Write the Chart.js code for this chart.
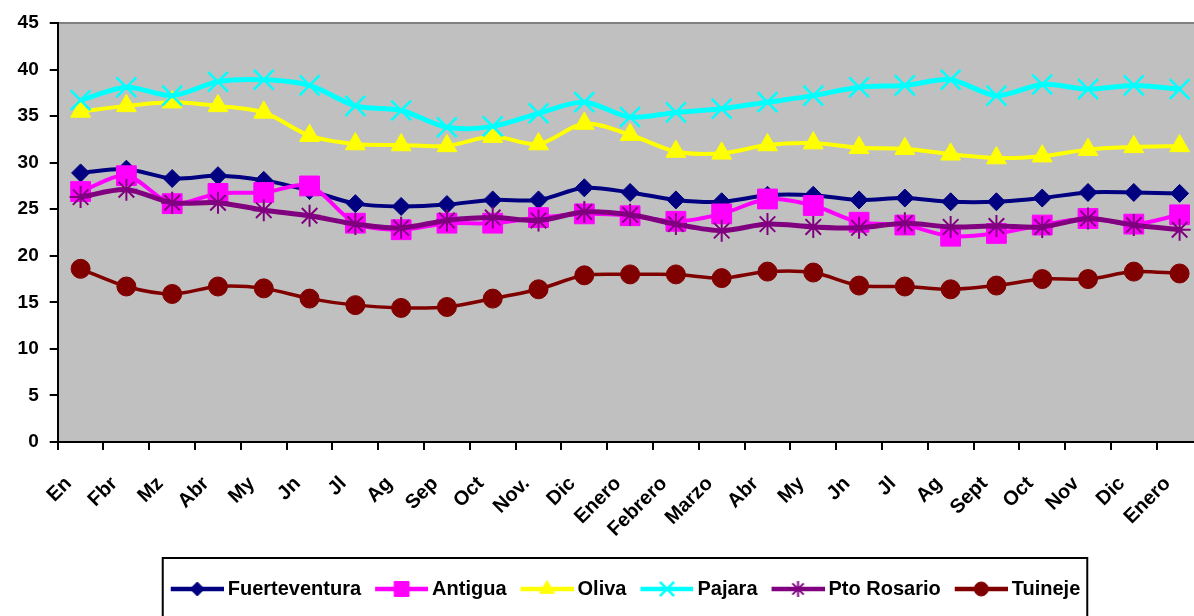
<!DOCTYPE html>
<html><head><meta charset="utf-8">
<script src="https://cdn.jsdelivr.net/npm/chart.js@4.4.0/dist/chart.umd.min.js"></script>
<style>html,body{margin:0;padding:0;background:#fff;overflow:hidden;width:1194px;height:616px}#wrap{width:1219px;height:616px}</style>
</head><body><div id="wrap"><canvas id="c" width="1219" height="616"></canvas></div>
<script>
const categories = ['En','Fbr','Mz','Abr','My','Jn','Jl','Ag','Sep','Oct','Nov.','Dic','Enero','Febrero','Marzo','Abr','My','Jn','Jl','Ag','Sept','Oct','Nov','Dic','Enero'];
const fuerteventura = [28.9, 29.3, 28.3, 28.6, 28.1, 27.0, 25.6, 25.3, 25.5, 26.0, 26.0, 27.3, 26.8, 26.0, 25.8, 26.5, 26.5, 26.0, 26.2, 25.8, 25.8, 26.2, 26.8, 26.8, 26.7];
const antigua = [26.9, 28.6, 25.6, 26.7, 26.8, 27.5, 23.5, 22.8, 23.5, 23.5, 24.1, 24.5, 24.3, 23.7, 24.5, 26.1, 25.4, 23.6, 23.3, 22.1, 22.4, 23.3, 24.0, 23.4, 24.4];
const oliva = [35.5, 36.1, 36.5, 36.1, 35.4, 32.9, 32.0, 31.9, 31.8, 32.8, 32.0, 34.2, 33.0, 31.2, 31.0, 31.9, 32.1, 31.6, 31.5, 30.9, 30.5, 30.7, 31.4, 31.7, 31.8];
const pajara = [36.7, 38.1, 37.2, 38.7, 38.9, 38.3, 36.1, 35.6, 33.8, 33.9, 35.3, 36.5, 34.9, 35.4, 35.8, 36.5, 37.2, 38.1, 38.3, 38.9, 37.2, 38.4, 37.9, 38.3, 37.9];
const ptoRosario = [26.3, 27.1, 25.7, 25.7, 24.9, 24.3, 23.4, 23.0, 23.8, 24.1, 23.8, 24.7, 24.4, 23.4, 22.7, 23.4, 23.1, 23.0, 23.5, 23.1, 23.2, 23.1, 24.0, 23.3, 22.8];
const tuineje = [18.6, 16.7, 15.9, 16.7, 16.5, 15.4, 14.7, 14.4, 14.5, 15.4, 16.4, 17.9, 18.0, 18.0, 17.6, 18.3, 18.2, 16.8, 16.7, 16.4, 16.8, 17.5, 17.5, 18.3, 18.1];
const seriesNames = ['Fuerteventura','Antigua','Oliva','Pajara','Pto Rosario','Tuineje'];
const yTicks = [0,5,10,15,20,25,30,35,40,45];

const FONT = "'Liberation Sans', Arial, sans-serif";
const styles = [
  {color:'#000080', lw:4, ps:'rectRot', r:9, pbw:1, legR:7},
  {color:'#FF00FF', lw:4, ps:'rect', r:14, pbw:1, legR:10.5},
  {color:'#FFFF00', lw:4, ps:'triangle', r:11.5, pbw:1, legR:8.5},
  {color:'#00FFFF', lw:5, ps:'crossRot', r:14, pbw:2.5, legR:10},
  {color:'#800080', lw:5, ps:'star', r:11, pbw:2, legR:8},
  {color:'#800000', lw:3.5, ps:'circle', r:9.5, pbw:1, legR:7}
];
const values = [fuerteventura, antigua, oliva, pajara, ptoRosario, tuineje];

function legendImg(st){
  const cv = document.createElement('canvas');
  cv.width = 64; cv.height = 24;
  const ctx = cv.getContext('2d');
  ctx.strokeStyle = st.color; ctx.lineWidth = 4.5;
  ctx.beginPath(); ctx.moveTo(11,12); ctx.lineTo(64,12); ctx.stroke();
  ctx.fillStyle = st.color; ctx.strokeStyle = st.color; ctx.lineWidth = st.pbw;
  Chart.helpers.drawPoint(ctx, {pointStyle: st.ps, radius: st.legR, rotation: 0, borderWidth: st.pbw}, 37.5, 12);
  return cv;
}

const datasets = seriesNames.map((name,i)=>({
  label: name,
  data: values[i],
  borderColor: styles[i].color,
  backgroundColor: styles[i].color,
  borderWidth: styles[i].lw,
  pointStyle: styles[i].ps,
  pointRadius: styles[i].r,
  pointBorderWidth: styles[i].pbw,
  pointBackgroundColor: styles[i].color,
  pointBorderColor: styles[i].color,
  tension: 0.3,
  order: seriesNames.length - i
}));

const bgPlugin = {
  id:'bg',
  beforeDraw(chart){
    const {ctx, chartArea:a} = chart;
    ctx.save(); ctx.fillStyle = '#C0C0C0';
    ctx.fillRect(a.left, a.top, a.right - a.left, a.bottom - a.top);
    ctx.strokeStyle = '#808080'; ctx.lineWidth = 2;
    ctx.beginPath(); ctx.moveTo(a.left, a.top); ctx.lineTo(a.right, a.top); ctx.stroke();
    ctx.restore();
  },
  afterLayout(chart){
    const lg = chart.legend; const shift = 13.5;
    lg.left += shift; lg.right += shift;
  },
  afterDraw(chart){
    const lg = chart.legend; const hb = lg.legendHitBoxes;
    if(!hb || !hb.length) return;
    let l = Infinity, r = -Infinity;
    hb.forEach(h=>{ l = Math.min(l, h.left); r = Math.max(r, h.left + h.width); });
    const ctx = chart.ctx;
    ctx.save(); ctx.strokeStyle = '#000'; ctx.lineWidth = 2;
    ctx.strokeRect(l - 3, lg.top - 12, (r - l) + 10, 100);
    ctx.restore();
  }
};

new Chart(document.getElementById('c'), {
  type:'line',
  data:{labels: categories, datasets},
  options:{
    responsive:false, animation:false,
    layout:{padding:{top:23, left:0, right:0, bottom:7}},
    plugins:{
      tooltip:{enabled:false},
      legend:{
        position:'bottom',
        labels:{
          usePointStyle:true, pointStyleWidth:52, padding:9, color:'#000',
          font:{family:FONT, size:20, weight:'bold'},
          generateLabels(chart){
            return chart.data.datasets.map((ds,i)=>({
              text: ds.label, pointStyle: legendImg(styles[i]), datasetIndex:i,
              hidden:false, fontColor:'#000', lineWidth:0, strokeStyle:'rgba(0,0,0,0)', fillStyle:'rgba(0,0,0,0)'
            }));
          }
        }
      }
    },
    scales:{
      x:{
        offset:true,
        grid:{drawOnChartArea:false, tickLength:8, color:'#000', lineWidth:2, offset:true},
        border:{color:'#000', width:2},
        ticks:{maxRotation:45, minRotation:45, color:'#000', padding:22, labelOffset:-12, autoSkip:false,
               font:{family:FONT, size:20, weight:'bold'}},
        afterFit(s){ s.height = 128; }
      },
      y:{
        min:0, max:45,
        afterBuildTicks(s){ s.ticks = yTicks.map(v=>({value:v})); },
        grid:{drawOnChartArea:false, tickLength:8, color:'#000', lineWidth:2},
        border:{color:'#000', width:2},
        ticks:{color:'#000', padding:11, font:{family:FONT, size:19, weight:'bold'}},
        afterFit(s){ s.width = 57.7; }
      }
    }
  },
  plugins:[bgPlugin]
});
</script></body></html>
